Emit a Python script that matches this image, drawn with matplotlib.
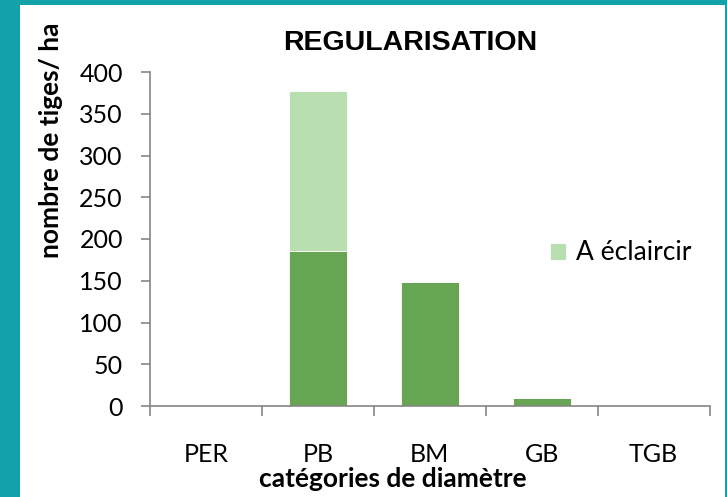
import numpy as np
import matplotlib.pyplot as plt
from matplotlib.patches import Rectangle

# catégories et effectifs (tiges/ha)
categories = ["PER", "PB", "BM", "GB", "TGB"]
conserver = [0, 186, 149, 9, 0]
eclaircir = [0, 191, 0, 0, 0]

vert_fonce = "#66A552"
vert_clair = "#B9DEAF"
gris_axe = "#868686"

plt.rcParams['font.family'] = ['Lato', 'DejaVu Sans']

W, H = 727, 497
fig = plt.figure(figsize=(W/100, H/100), dpi=100)
fig.patch.set_facecolor("#13A2AA")
# fond blanc dans le cadre
fig.patches.append(Rectangle((20/W, 0), 705/W, 492/H, transform=fig.transFigure,
                             facecolor="white", edgecolor="none", zorder=-10))

ax = fig.add_axes([150/W, 91/H, 559.5/W, 334/H])
ax.set_facecolor("none")
x = np.arange(len(categories))
ax.bar(x, conserver, width=0.52, color=vert_fonce, edgecolor="white", linewidth=0.6)
ax.bar(x, eclaircir, width=0.52, bottom=conserver, color=vert_clair,
       edgecolor="white", linewidth=0.6, label="A éclaircir")

ax.set_xlim(-0.5, len(categories) - 0.5)
ax.set_ylim(0, 400)
ax.set_yticks(np.arange(0, 401, 50))
ax.tick_params(axis="y", labelsize=18, length=6.5, width=1.2, color=gris_axe, pad=13)

# graduations aux limites des catégories, libellés au centre
ax.set_xticks(np.arange(-0.5, len(categories), 1))
ax.set_xticklabels([])
ax.set_xticks(x, minor=True)
ax.set_xticklabels(categories, minor=True)
ax.tick_params(axis="x", which="major", length=7, width=1.2, color=gris_axe)
ax.tick_params(axis="x", which="minor", length=0, labelsize=18, pad=27)

for s in ["top", "right"]:
    ax.spines[s].set_visible(False)
for s in ["left", "bottom"]:
    ax.spines[s].set_color(gris_axe)
    ax.spines[s].set_linewidth(1.2)

fig.text(393/W, 1 - 479/H, "catégories de diamètre", fontsize=19, fontweight="bold",
         ha="center", va="center")
fig.text(51/W, 1 - 140/H, "nombre de tiges/ ha", fontsize=19, fontweight="bold",
         rotation=90, ha="center", va="center")
fig.text(410/W, 1 - 43/H, "REGULARISATION", fontsize=20.5, fontweight="bold",
         family="Liberation Sans", ha="center", va="center")

ax.legend(loc="center left", bbox_to_anchor=(400/559.5, 153/334), frameon=False, fontsize=19,
          borderpad=0, borderaxespad=0, handlelength=0.62, handleheight=0.62,
          handletextpad=0.35)

fig.savefig("out.png", dpi=100, facecolor=fig.get_facecolor())
